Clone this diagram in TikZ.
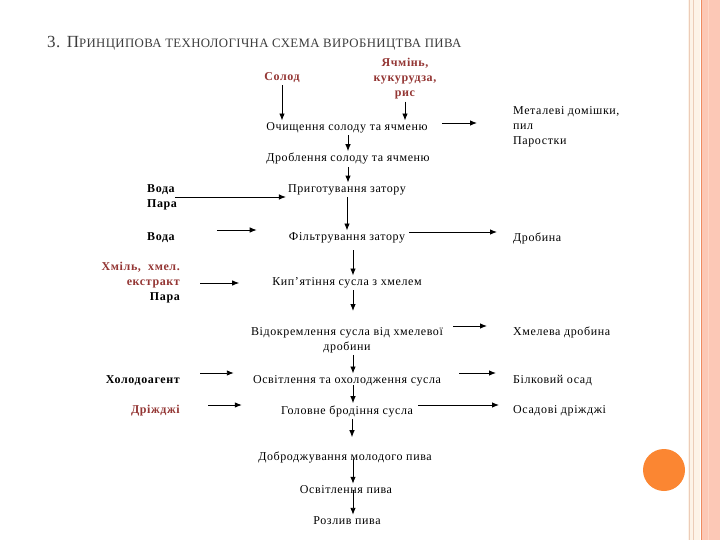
\documentclass[tikz,border=0pt]{standalone}
\usepackage{fontspec}
\setmainfont{Liberation Serif}
\usepackage{xcolor}
\usepackage{tikz}
\usetikzlibrary{arrows.meta}
\newfontfamily\schemefont[LetterSpace=5]{Liberation Serif}
\newfontfamily\titlefont[LetterSpace=3]{Liberation Serif}
\definecolor{titlegray}{RGB}{60,60,60}
\definecolor{rawred}{RGB}{148,54,52}
\definecolor{stripecream}{RGB}{253,243,232}
\definecolor{stripetan}{RGB}{236,204,184}
\definecolor{stripeorange}{RGB}{238,140,98}
\definecolor{stripesalmon}{RGB}{252,200,182}
\definecolor{stripelight}{RGB}{253,214,198}
\definecolor{dotorange}{RGB}{251,134,50}
\tikzset{
  stepnode/.style={
    inner sep=2pt,
    align=center,
    font=\schemefont\fontsize{12}{15}\selectfont
  },
  outnode/.style={stepnode, anchor=west, align=left},
  inputnode/.style={stepnode, font=\schemefont\bfseries\fontsize{12}{15}\selectfont},
  rawnode/.style={inputnode, text=rawred},
  titlenode/.style={inner sep=0pt, text=titlegray, font=\titlefont\fontsize{12.8}{15}\selectfont},
  flowarrow/.style={-{Latex[length=7pt,width=5.5pt]}, line width=0.9pt, draw=black}
}

\begin{document}
\begin{tikzpicture}[x=1pt, y=-1pt]
    \useasboundingbox (0,0) rectangle (720,540);
    \fill[white] (0,0) rectangle (720,540);

    \fill[stripecream] (688,0) rectangle (700,540);
    \draw[stripetan, line width=0.6pt] (689.5,0) -- (689.5,540);
    \draw[stripetan, line width=0.6pt] (693.5,0) -- (693.5,540);
    \fill[stripesalmon] (702,0) rectangle (720,540);
    \draw[stripeorange, line width=1.4pt] (701.5,0) -- (701.5,540);
    \draw[stripelight, line width=1pt] (708,0) -- (708,540);
    \fill[dotorange] (664,470) circle (21pt);

    \node[titlenode, anchor=base west] (title) at (47,48)
      {{\fontsize{17}{19}\selectfont 3. П}РИНЦИПОВА ТЕХНОЛОГІЧНА СХЕМА ВИРОБНИЦТВА ПИВА};

    \node[rawnode] (malt) at (282,78) {Солод};
    \node[rawnode] (barley) at (405,79) {Ячмінь,\\кукурудза,\\рис};

    \node[stepnode] (clean) at (347,128) {Очищення солоду та ячменю};
    \node[outnode] (waste) at (511,127) {Металеві домішки,\\пил\\Паростки};
    \node[stepnode] (crush) at (348,159) {Дроблення солоду та ячменю};

    \node[inputnode, anchor=west, align=left] (water1) at (145,197) {Вода\\Пара};
    \node[stepnode] (mash) at (347,190) {Приготування затору};

    \node[inputnode, anchor=west] (water2) at (145,238) {Вода};
    \node[stepnode] (filt) at (347,238) {Фільтрування затору};
    \node[outnode] (grains) at (511,238) {Дробина};

    \node[inputnode, anchor=east, align=right] (hops) at (182,283)
      {\textcolor{rawred}{Хміль,\ \ хмел.}\\\textcolor{rawred}{екстракт}\\Пара};
    \node[stepnode] (boil) at (347,283) {Кип’ятіння сусла з хмелем};

    \node[stepnode] (sep) at (347,340) {Відокремлення сусла від хмелевої\\дробини};
    \node[outnode] (hopgrains) at (511,332) {Хмелева дробина};

    \node[inputnode, anchor=east] (coolant) at (182,381) {Холодоагент};
    \node[stepnode] (cool) at (347,381) {Освітлення та охолодження сусла};
    \node[outnode] (protein) at (511,381) {Білковий осад};

    \node[rawnode, anchor=east] (yeast) at (182,411) {Дріжджі};
    \node[stepnode] (ferm) at (347,411) {Головне бродіння сусла};
    \node[outnode] (yeastout) at (511,411) {Осадові дріжджі};

    \node[stepnode] (matur) at (345,457) {Доброджування молодого пива};
    \node[stepnode] (clar) at (346,490) {Освітлення пива};
    \node[stepnode] (bottl) at (347,521) {Розлив пива};

    \draw[flowarrow] (malt) -- (malt |- clean.north);
    \draw[flowarrow] (barley) -- (barley |- clean.north);
    \draw[flowarrow, shorten <=12pt, shorten >=34pt] ([yshift=5pt]clean.east) -- ([yshift=5pt]clean.east -| waste.west);
    \draw[flowarrow] ([xshift=1pt]clean.south) -- ([xshift=1pt]clean.south |- crush.north);
    \draw[flowarrow] (crush) -- (crush |- mash.north);

    \draw[flowarrow, shorten <=-4pt] (water1.east) -- (water1.east -| mash.west);
    \draw[flowarrow] (mash) -- (mash |- filt.north);

    \draw[flowarrow, shorten <=40pt, shorten >=30pt] ([yshift=8pt]water2.east) -- ([yshift=8pt]water2.east -| filt.west);
    \draw[flowarrow, shorten <=2pt, shorten >=14pt] ([yshift=6pt]filt.east) -- ([yshift=6pt]filt.east -| grains.west);
    \draw[flowarrow, shorten <=5pt] ([xshift=6pt]filt.south) -- ([xshift=6pt]filt.south |- boil.north);

    \draw[flowarrow, shorten <=18pt, shorten >=31pt] (hops.east) -- (hops.east -| boil.west);
    \draw[flowarrow, shorten >=14pt] ([xshift=6pt]boil.south) -- ([xshift=6pt]boil.south |- sep.north);

    \draw[flowarrow, shorten <=8pt, shorten >=24pt] ([yshift=14pt]sep.east) -- ([yshift=14pt]sep.east -| hopgrains.west);
    \draw[flowarrow] ([xshift=6pt]sep.south) -- ([xshift=6pt]sep.south |- cool.north);

    \draw[flowarrow, shorten <=18pt, shorten >=17pt] ([yshift=8pt]coolant.east) -- ([yshift=8pt]coolant.east -| cool.west);
    \draw[flowarrow, shorten <=16pt, shorten >=15pt] ([yshift=8pt]cool.east) -- ([yshift=8pt]cool.east -| protein.west);
    \draw[flowarrow, shorten <=-3pt] ([xshift=6pt]cool.south) -- ([xshift=6pt]cool.south |- ferm.north);

    \draw[flowarrow, shorten <=26pt, shorten >=37pt] ([yshift=6pt]yeast.east) -- ([yshift=6pt]yeast.east -| ferm.west);
    \draw[flowarrow, shorten <=3pt, shorten >=12pt] ([yshift=6pt]ferm.east) -- ([yshift=6pt]ferm.east -| yeastout.west);
    \draw[flowarrow, shorten >=12pt] ([xshift=5pt]ferm.south) -- ([xshift=5pt]ferm.south |- matur.north);

    \draw[flowarrow, shorten <=-6pt] ([xshift=8pt]matur.south) -- ([xshift=8pt]matur.south |- clar.north);
    \draw[flowarrow, shorten <=-6pt] ([xshift=7pt]clar.south) -- ([xshift=7pt]clar.south |- bottl.north);
  \end{tikzpicture}
\end{document}
